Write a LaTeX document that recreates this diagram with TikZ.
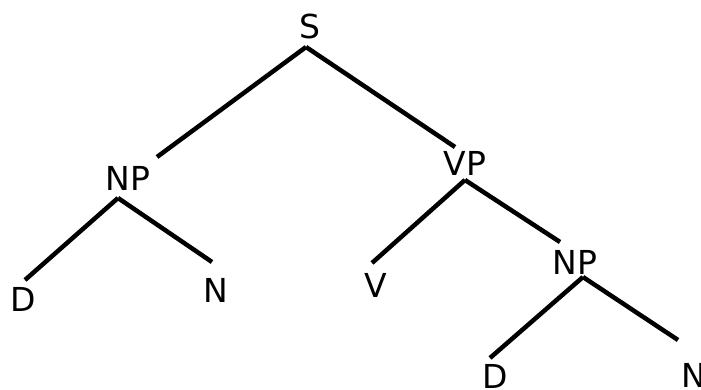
\documentclass[tikz,border=0pt]{standalone}
\usepackage{fontspec}
\setmainfont{DejaVu Sans}
\begin{document}
\begin{tikzpicture}
        [x=1pt,y=-1pt,
        labeldecorate/.style={inner sep=0pt,font=\fontsize{33}{40}\selectfont},%
        linedecorate/.style={-,line width=4.5pt}]
        \useasboundingbox (0,0) rectangle (701,389);
        %% nodes or labels
        \foreach \nodename/\x/\y/\tag in { s/310/26/S, np/128/178/NP, vp/465/163/VP,
          da/23/299/D, na/216/290/N, v/376/285/V, npb/575/262/NP, db/495/376/D, nb/694/375/N}
        {
          \node (\nodename) at (\x,\y) [labeldecorate] {\tag};
        }
        %% edges or lines
        \foreach \startnode/\sx/\sy/\endnode/\ex/\ey in {s/-4/21/np/29/-21, s/-4/21/vp/-10/-16,
          np/-10/20/da/2/-19, np/-10/20/na/-4/-28, vp/0/17/v/-4/-22, vp/0/17/npb/-15/-20,
          npb/8/15/db/-5/-18, npb/8/15/nb/-16/-35}
        {
          \draw[linedecorate] ([shift={(\sx,\sy)}]\startnode.center) -- ([shift={(\ex,\ey)}]\endnode.center);
        }
      \end{tikzpicture}
\end{document}
